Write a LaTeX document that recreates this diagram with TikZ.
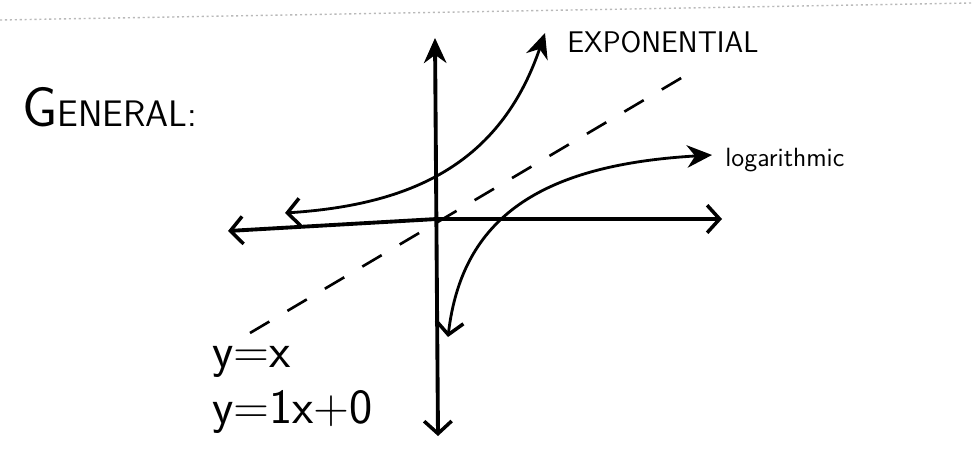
\documentclass[tikz,border=0pt]{standalone}
\usepackage{tikz}
\usetikzlibrary{arrows.meta}

\tikzset{
  axisline/.style={line width=2.2pt, line cap=round, line join=round},
  graphline/.style={line width=1.6pt, line cap=round},
  identline/.style={line width=1.5pt, dash pattern=on 0.45cm off 0.42cm},
  handtext/.style={font=\sffamily, inner sep=0pt},
  openbarb/.tip={Straight Barb[length=2.5mm, width=5.5mm, line width=2pt]},
  fullhead/.tip={Stealth[length=5mm, width=4.5mm]}
}

\begin{document}
\begin{tikzpicture}[x=0.02cm, y=-0.02cm, line join=round]
\useasboundingbox (0,0) rectangle (972,455);
% paper edge
\coordinate (edgeL) at (0,20);
\coordinate (edgeR) at (972,3);
\draw[gray!55, line width=0.8pt, dash pattern=on 1.2pt off 1.6pt] (edgeL) -- (edgeR);
% axes
\coordinate (o) at (437,219);
\coordinate (xl) at (228,231);
\coordinate (xr) at (722,219);
\coordinate (yt) at (435,38);
\coordinate (yb) at (438,436);
\draw[axisline, openbarb-openbarb] (xl) -- (o) -- (xr);
\draw[axisline, fullhead-openbarb] (yt) -- (yb);
% y = x
\coordinate (idB) at (250,333);
\coordinate (idT) at (688,74);
\draw[identline] (idB) -- (idT);
% exponential
\coordinate (expL) at (285,213);
\coordinate (expT) at (545,33);
\draw[graphline, openbarb-fullhead] (expL) .. controls (410,205) and (500,165) .. (expT);
% logarithmic
\coordinate (logB) at (448,337);
\coordinate (logR) at (712,155);
\draw[graphline, openbarb-fullhead] (logB) .. controls (462,218) and (540,165) .. (logR);
% labels
\node[handtext, anchor=base west] (gen) at (22,127) {{\fontsize{32}{32}\selectfont G}{\fontsize{21}{21}\selectfont ENERAL:}};
\node[handtext, anchor=base west, font=\sffamily\fontsize{17}{17}\selectfont] (expname) at (567,53) {EXPONENTIAL};
\node[handtext, anchor=base west, font=\sffamily\fontsize{15}{15}\selectfont] (logname) at (725,167) {logarithmic};
\node[handtext, anchor=base west, font=\sffamily\fontsize{28}{28}\selectfont] (eqa) at (212,367) {y=x};
\node[handtext, anchor=base west, font=\sffamily\fontsize{28}{28}\selectfont] (eqb) at (212,423) {y=1x+0};
\end{tikzpicture}
\end{document}
